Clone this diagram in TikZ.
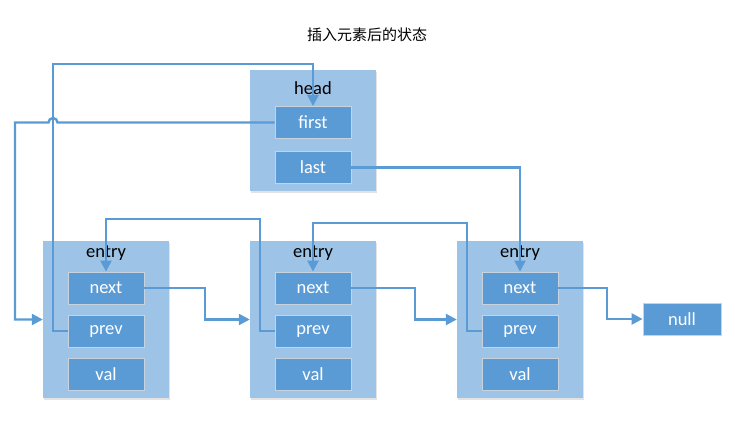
\documentclass[tikz,border=0pt]{standalone}
\usepackage{fontspec}
\setmainfont{Carlito}
\newfontfamily\cjk{Noto Sans CJK SC}
\usetikzlibrary{arrows.meta,shadows}
\definecolor{outerc}{HTML}{9DC3E6}
\definecolor{innerc}{HTML}{5B9BD5}
\definecolor{bordc}{HTML}{C9D3DD}
\tikzset{
  outerbox/.style={fill=outerc, draw=none, minimum width=126pt, inner sep=0pt,
    drop shadow={shadow xshift=1pt, shadow yshift=-1.5pt, fill=black!18, opacity=0.6}},
  fieldbox/.style={fill=innerc, draw=bordc, line width=0.8pt, minimum width=76pt, minimum height=32pt,
    inner sep=0pt, text=white, font=\fontsize{18.5}{21}\selectfont},
  lbl/.style={text=black, font=\fontsize{18.5}{21}\selectfont, inner sep=0pt},
  link/.style={draw=innerc, line width=2.4pt, line join=miter},
  arr/.style={link, -{Triangle[length=11pt,width=11pt]}}
}
\begin{document}
\begin{tikzpicture}[x=1pt,y=-1pt]
\useasboundingbox (0,0) rectangle (737,426);
\node[text=black, font=\cjk\fontsize{15}{17}\selectfont, inner sep=0pt] (title) at (367,35) {插入元素后的状态};

% outer boxes
\node[outerbox, minimum height=121pt] (hd) at (313,130.5) {};
\node[outerbox, minimum height=157pt] (e1) at (106,319.5) {};
\node[outerbox, minimum height=157pt] (e2) at (313,319.5) {};
\node[outerbox, minimum height=157pt] (e3) at (520,319.5) {};

% labels
\node[lbl] (hl) at (313,88) {head};
\node[lbl] (l1) at (106,253) {entry};
\node[lbl] (l2) at (313,253) {entry};
\node[lbl] (l3) at (520,253) {entry};

% head fields
\node[fieldbox] (first) at (313,122.5) {first};
\node[fieldbox] (last) at (313,167.5) {last};

% entry fields
\foreach \i/\x in {1/106,2/313,3/520}{
  \node[fieldbox] (n\i) at (\x,288) {next};
  \node[fieldbox] (p\i) at (\x,331) {prev};
  \node[fieldbox] (v\i) at (\x,374) {val};
}
\node[fieldbox, minimum width=78pt] (nl) at (682,319) {null};

% connectors
\draw[arr] (first.west) -- (57.5,122.5) arc[start angle=0, end angle=-180, radius=4.5] -- (15,122.5) |- (e1.west);
\draw[arr] (p1.west) -| (53,64) -| (first.north);
\draw[arr] (n1.east) -- (205,288) |- (e2.west);
\draw[arr] (p2.west) -| (260,219) -| (n1.north);
\draw[arr] (n2.east) -- (415,288) |- (e3.west);
\draw[arr] (p3.west) -| (467,223) -| (n2.north);
\draw[arr] (last.east) -| (n3.north);
\draw[arr] (n3.east) -- (607,288) |- (nl.west);
\end{tikzpicture}
\end{document}
